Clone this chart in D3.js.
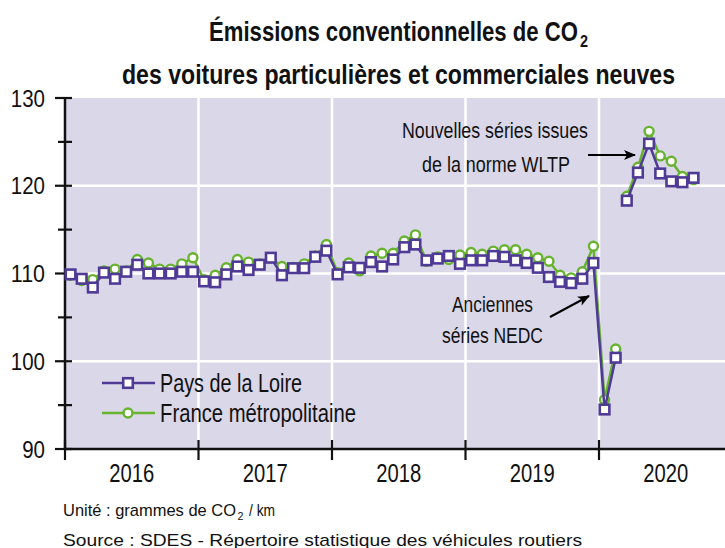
<!DOCTYPE html>
<html lang="fr">
<head>
<meta charset="utf-8">
<script src="https://cdn.jsdelivr.net/npm/d3@7"></script>
<style>
  body { margin: 0; background: #fff; }
  svg { display: block; font-family: "Liberation Sans", Arial, sans-serif; }
</style>
</head>
<body>
<div id="chart"></div>
<script>
// mois depuis janvier 2016 (0 = janv. 2016)
const years = ["2016", "2017", "2018", "2019", "2020"];
const yTicks = [90, 100, 110, 120, 130];

// séries NEDC : janv. 2016 -> févr. 2020
const paysNedc = [
  109.9, 109.4, 108.4, 110.1, 109.4, 110.2, 111.0, 110.0, 110.0, 110.0, 110.2, 110.2,
  109.1, 109.0, 109.9, 110.8, 110.4, 111.0, 111.8, 109.8, 110.6, 110.6, 111.9, 112.6,
  109.9, 110.7, 110.65, 111.3, 110.8, 111.6, 113.0, 113.3, 111.5, 111.7, 112.0, 111.1,
  111.5, 111.5, 112.0, 111.9, 111.5, 111.2, 110.65, 109.6, 109.05, 108.9, 109.4, 111.2,
  94.5, 100.4
];
const franceNedc = [
  109.8, 109.2, 109.3, 110.3, 110.5, 110.3, 111.6, 111.2, 110.5, 110.5, 111.1, 111.8,
  109.3, 109.8, 110.65, 111.6, 111.3, 111.1, 111.8, 110.8, 110.7, 111.1, 112.0, 113.3,
  110.1, 111.2, 110.3, 112.0, 112.3, 112.3, 113.7, 114.4, 111.4, 111.9, 111.6, 112.1,
  112.4, 112.2, 112.55, 112.7, 112.7, 112.2, 111.8, 111.4, 109.8, 109.5, 110.2, 113.1,
  95.6, 101.4
];
// séries WLTP : mars 2020 -> sept. 2020
const wltpStart = 50;
const paysWltp = [118.3, 121.5, 124.8, 121.4, 120.5, 120.4, 120.9];
const franceWltp = [118.8, 122.1, 126.2, 123.4, 122.8, 121.05, 120.7];

const series = [
  { name: "France métropolitaine", color: "#67b32e", marker: "circle", labelWidth: 196,
    segments: [franceNedc.map((v, i) => [i, v]), franceWltp.map((v, i) => [wltpStart + i, v])] },
  { name: "Pays de la Loire", color: "#4f3a96", marker: "square", labelWidth: 142,
    segments: [paysNedc.map((v, i) => [i, v]), paysWltp.map((v, i) => [wltpStart + i, v])] }
];

// police étroite absente : on comprime le texte à la largeur voulue
function fit(sel, w) {
  return sel.attr("textLength", w).attr("lengthAdjust", "spacingAndGlyphs");
}

function renderChart(element) {
  const width = 725;
  const height = 548;
  const left = 65;
  const top = 98;
  const bottom = 449;

  const x = d3.scaleLinear().domain([0, 60]).range([left, left + 667.5]);
  const y = d3.scaleLinear().domain([90, 130]).range([bottom, top]);

  const svg = d3.select(element)
    .append("svg")
    .attr("width", width)
    .attr("height", height);

  svg.append("defs")
    .append("marker")
    .attr("id", "arrow")
    .attr("viewBox", "0 0 12 10")
    .attr("refX", 11)
    .attr("refY", 5)
    .attr("markerWidth", 13)
    .attr("markerHeight", 10)
    .attr("markerUnits", "userSpaceOnUse")
    .attr("orient", "auto")
    .append("path")
    .attr("d", "M0,0L12,5L0,10L3,5Z")
    .attr("fill", "#000");

  // fond
  svg.append("rect")
    .attr("x", left)
    .attr("y", top)
    .attr("width", width - left)
    .attr("height", bottom - top)
    .attr("fill", "#dad7e9");

  // grille
  svg.append("g")
    .selectAll("line")
    .data([100, 110, 120])
    .join("line")
    .attr("x1", left)
    .attr("x2", width)
    .attr("y1", (d) => y(d))
    .attr("y2", (d) => y(d))
    .attr("stroke", "#fff")
    .attr("stroke-width", 2.5);

  svg.append("g")
    .selectAll("line")
    .data([12, 24, 36, 48])
    .join("line")
    .attr("x1", (d) => x(d))
    .attr("x2", (d) => x(d))
    .attr("y1", top)
    .attr("y2", bottom)
    .attr("stroke", "#fff")
    .attr("stroke-width", 2.5);

  // axe Y
  const yAxis = svg.append("g").attr("class", "y-axis");
  yAxis.append("line")
    .attr("x1", left).attr("x2", left)
    .attr("y1", top).attr("y2", bottom + 1)
    .attr("stroke", "#111").attr("stroke-width", 2.5);
  yAxis.selectAll(".major")
    .data(yTicks)
    .join("line")
    .attr("class", "major")
    .attr("x1", 55).attr("x2", 72)
    .attr("y1", (d) => y(d)).attr("y2", (d) => y(d))
    .attr("stroke", "#111").attr("stroke-width", 2.2);
  yAxis.selectAll(".minor")
    .data([95, 105, 115, 125])
    .join("line")
    .attr("class", "minor")
    .attr("x1", 58).attr("x2", 72)
    .attr("y1", (d) => y(d)).attr("y2", (d) => y(d))
    .attr("stroke", "#111").attr("stroke-width", 2.2);
  yAxis.selectAll("text")
    .data(yTicks)
    .join("text")
    .attr("x", 45)
    .attr("y", (d) => y(d) + 8.5)
    .attr("text-anchor", "end")
    .attr("font-size", 24)
    .attr("fill", "#111")
    .attr("textLength", (d) => String(d).length * 11.4)
    .attr("lengthAdjust", "spacingAndGlyphs")
    .text((d) => d);

  // axe X
  const xAxis = svg.append("g").attr("class", "x-axis");
  xAxis.append("line")
    .attr("x1", left).attr("x2", width)
    .attr("y1", bottom).attr("y2", bottom)
    .attr("stroke", "#111").attr("stroke-width", 2.5);
  xAxis.selectAll(".tick")
    .data([0, 12, 24, 36, 48])
    .join("line")
    .attr("class", "tick")
    .attr("x1", (d) => x(d)).attr("x2", (d) => x(d))
    .attr("y1", 440).attr("y2", 460)
    .attr("stroke", "#111").attr("stroke-width", 2.2);
  fit(xAxis.selectAll("text")
    .data(years)
    .join("text")
    .attr("x", (d, i) => x(i * 12 + 6))
    .attr("y", 482)
    .attr("text-anchor", "middle")
    .attr("font-size", 25)
    .attr("fill", "#111")
    .text((d) => d), 45);

  // séries
  const line = d3.line()
    .x((d) => x(d[0] + 0.5))
    .y((d) => y(d[1]));

  series.forEach((s) => {
    const g = svg.append("g").attr("class", "series");
    g.selectAll("path")
      .data(s.segments)
      .join("path")
      .attr("d", line)
      .attr("fill", "none")
      .attr("stroke", s.color)
      .attr("stroke-width", 2.5);
    const points = s.segments.flat();
    if (s.marker === "circle") {
      g.selectAll("circle")
        .data(points)
        .join("circle")
        .attr("cx", (d) => x(d[0] + 0.5))
        .attr("cy", (d) => y(d[1]))
        .attr("r", 4.5)
        .attr("fill", "#fff")
        .attr("stroke", s.color)
        .attr("stroke-width", 2.4);
    } else {
      g.selectAll("rect")
        .data(points)
        .join("rect")
        .attr("x", (d) => x(d[0] + 0.5) - 4.8)
        .attr("y", (d) => y(d[1]) - 4.8)
        .attr("width", 9.6)
        .attr("height", 9.6)
        .attr("fill", "#fff")
        .attr("stroke", s.color)
        .attr("stroke-width", 2.6);
    }
  });

  // légende
  const legend = svg.append("g").attr("class", "legend");
  [series[1], series[0]].forEach((s, i) => {
    const ly = 383 + i * 30;
    legend.append("line")
      .attr("x1", 102).attr("x2", 155)
      .attr("y1", ly).attr("y2", ly)
      .attr("stroke", s.color).attr("stroke-width", 2.5);
    if (s.marker === "circle") {
      legend.append("circle")
        .attr("cx", 128).attr("cy", ly).attr("r", 4.5)
        .attr("fill", "#fff").attr("stroke", s.color).attr("stroke-width", 2.4);
    } else {
      legend.append("rect")
        .attr("x", 123.2).attr("y", ly - 4.8).attr("width", 9.6).attr("height", 9.6)
        .attr("fill", "#fff").attr("stroke", s.color).attr("stroke-width", 2.6);
    }
    fit(legend.append("text")
      .attr("x", 160)
      .attr("y", ly + 9)
      .attr("font-size", 25)
      .attr("fill", "#111")
      .text(s.name), s.labelWidth);
  });

  // annotations
  const note = svg.append("g").attr("class", "notes")
    .attr("font-size", 22).attr("fill", "#111");
  fit(note.append("text").attr("x", 402).attr("y", 138)
    .text("Nouvelles séries issues"), 186);
  fit(note.append("text").attr("x", 422).attr("y", 172)
    .text("de la norme WLTP"), 148);
  fit(note.append("text").attr("x", 452).attr("y", 312)
    .text("Anciennes"), 81);
  fit(note.append("text").attr("x", 442).attr("y", 343)
    .text("séries NEDC"), 101);
  note.append("line")
    .attr("x1", 588).attr("y1", 155).attr("x2", 635).attr("y2", 155)
    .attr("stroke", "#000").attr("stroke-width", 2).attr("marker-end", "url(#arrow)");
  note.append("line")
    .attr("x1", 550).attr("y1", 317).attr("x2", 589).attr("y2", 296)
    .attr("stroke", "#000").attr("stroke-width", 2).attr("marker-end", "url(#arrow)");

  // titre
  const title = svg.append("g").attr("class", "title")
    .attr("font-size", 28).attr("font-weight", "bold").attr("fill", "#111");
  fit(title.append("text").attr("x", 209).attr("y", 41)
    .text("Émissions conventionnelles de CO"), 369);
  fit(title.append("text").attr("x", 580).attr("y", 47).attr("font-size", 16)
    .text("2"), 8);
  fit(title.append("text").attr("x", 122).attr("y", 84)
    .text("des voitures particulières et commerciales neuves"), 553);

  // pied
  const foot = svg.append("g").attr("font-size", 17).attr("fill", "#111");
  fit(foot.append("text").attr("x", 63).attr("y", 516)
    .text("Unité : grammes de CO"), 173);
  fit(foot.append("text").attr("x", 237.5).attr("y", 520).attr("font-size", 11)
    .text("2"), 6);
  fit(foot.append("text").attr("x", 249).attr("y", 516)
    .text("/ km"), 26);
  fit(foot.append("text").attr("x", 63).attr("y", 546)
    .text("Source : SDES - Répertoire statistique des véhicules routiers"), 519);
}

renderChart(document.getElementById("chart"));
</script>
</body>
</html>
